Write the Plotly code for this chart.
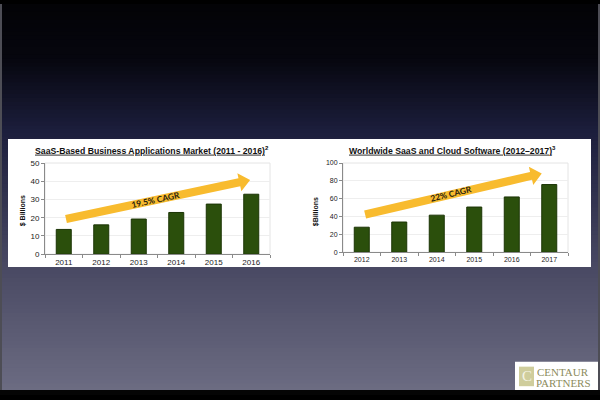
import math
import plotly.graph_objects as go

# ---------------- data ----------------
left_years = ["2011", "2012", "2013", "2014", "2015", "2016"]
left_values = [13.6, 16.1, 19.3, 22.9, 27.5, 32.9]
left_title = "SaaS-Based Business Applications Market (2011 - 2016)"
left_note = "2"
left_ylabel = "$ Billions"
left_cagr = "19.5% CAGR"
left_yticks = [0, 10, 20, 30, 40, 50]
left_arrow = [(0.06, 19.3), (4.97, 40.7)]   # (category index, value) tail -> tip

right_years = ["2012", "2013", "2014", "2015", "2016", "2017"]
right_values = [28.1, 33.9, 41.6, 50.7, 62.0, 75.9]
right_title = "Worldwide SaaS and Cloud Software (2012\u20132017)"
right_note = "3"
right_ylabel = "$Billions"
right_cagr = "22% CAGR"
right_yticks = [0, 20, 40, 60, 80, 100]
right_arrow = [(0.09, 42.4), (4.8, 88.4)]

logo_lines = ["CENTAUR", "PARTNERS"]

# ---------------- layout geometry (pixels) ----------------
W, H = 600, 400
L_DOM = dict(x0=45, x1=270, ytop=162.7, ybot=256, ymax=50)
R_DOM = dict(x0=343, x1=568, ytop=162.7, ybot=254, ymax=100)

BAR = "#2b4f0c"
BAR_EDGE = "#1b3405"
ARROW = "#f8bb2e"


def px2paper(px, py):
    return px / W, 1 - py / H


def d2px(dom, x, y):
    px = dom["x0"] + (x + 0.5) / 6 * (dom["x1"] - dom["x0"])
    py = dom["ybot"] - y / dom["ymax"] * (dom["ybot"] - dom["ytop"])
    return px, py


fig = go.Figure()

# background gradient
stops = [(0, (3, 3, 6)), (55, (6, 6, 14)), (130, (28, 30, 60)),
         (280, (76, 76, 102)), (395, (108, 108, 130))]


def grad(py):
    for (a, ca), (b, cb) in zip(stops[:-1], stops[1:]):
        if a <= py <= b:
            t = (py - a) / (b - a)
            return tuple(int(round(ca[i] + (cb[i] - ca[i]) * t)) for i in range(3))
    return stops[-1][1]


shapes = []
step = 4
for py in range(0, 400, step):
    c = grad(py + step / 2)
    shapes.append(dict(type="rect", xref="paper", yref="paper", layer="below",
                       x0=0, x1=1, y0=max(0, 1 - (py + step + 2) / H), y1=1 - py / H,
                       line=dict(width=0), fillcolor="rgb(%d,%d,%d)" % c))
# frame edges
shapes.append(dict(type="rect", xref="paper", yref="paper", layer="below",
                   x0=0, x1=2 / W, y0=0, y1=1, line=dict(width=0), fillcolor="#4d4d55"))
shapes.append(dict(type="rect", xref="paper", yref="paper", layer="below",
                   x0=1 - 2 / W, x1=1, y0=0, y1=1, line=dict(width=0), fillcolor="#4d4d55"))
shapes.append(dict(type="rect", xref="paper", yref="paper", layer="below",
                   x0=0, x1=1, y0=0, y1=5 / H, line=dict(width=0), fillcolor="#050505"))
# white band
shapes.append(dict(type="rect", xref="paper", yref="paper", layer="below",
                   x0=8 / W, x1=591 / W, y0=1 - 269 / H, y1=1 - 138 / H,
                   line=dict(width=0), fillcolor="white"))
# light plot frames
for dom in (L_DOM, R_DOM):
    shapes.append(dict(type="rect", xref="paper", yref="paper", layer="below",
                       x0=dom["x0"] / W, x1=dom["x1"] / W,
                       y0=1 - dom["ybot"] / H, y1=1 - dom["ytop"] / H,
                       line=dict(width=1, color="#e4e4e4"), fillcolor="white"))

annotations = []


def add_arrow(dom, arrow, text):
    (sx, sy), (ex, ey) = [d2px(dom, *p) for p in arrow]
    dx, dy = ex - sx, ey - sy
    ln = math.hypot(dx, dy)
    ux, uy = dx / ln, dy / ln
    nx, ny = -uy, ux
    h, Hh, Lh = 4.2, 9.5, 11
    bx, by = ex - ux * Lh, ey - uy * Lh
    pts = [(sx + nx * h, sy + ny * h), (bx + nx * h, by + ny * h),
           (bx + nx * Hh, by + ny * Hh), (ex, ey),
           (bx - nx * Hh, by - ny * Hh), (bx - nx * h, by - ny * h),
           (sx - nx * h, sy - ny * h)]
    pp = [px2paper(*p) for p in pts]
    path = "M " + " L ".join("%.5f,%.5f" % p for p in pp) + " Z"
    shapes.append(dict(type="path", xref="paper", yref="paper", path=path,
                       fillcolor=ARROW, line=dict(width=0), layer="above"))
    ang = math.degrees(math.atan2(dy, dx))
    mx, my = (sx + ex) / 2 - 0.6, (sy + ey) / 2 + 0.5
    mpx, mpy = px2paper(mx - 2, my)
    annotations.append(dict(x=mpx, y=mpy, xref="paper", yref="paper", text="<b>%s</b>" % text,
                            showarrow=False, textangle=ang, xanchor="center", yanchor="middle",
                            font=dict(family="Lato", size=8.5, color="#2b2410")))


add_arrow(L_DOM, left_arrow, left_cagr)
add_arrow(R_DOM, right_arrow, right_cagr)

# bars
fig.add_trace(go.Bar(x=left_years, y=left_values, marker=dict(color=BAR, line=dict(color=BAR_EDGE, width=1)),
                     width=0.4, xaxis="x", yaxis="y", showlegend=False))
fig.add_trace(go.Bar(x=right_years, y=right_values, marker=dict(color=BAR, line=dict(color=BAR_EDGE, width=1)),
                     width=0.4, xaxis="x2", yaxis="y2", showlegend=False))

# titles
TFONT = dict(family="Liberation Sans, Arial", size=8.7, color="#111111")
for cx, t, n in ((152, left_title, left_note), (452, right_title, right_note)):
    x, y = px2paper(cx, 149)
    annotations.append(dict(x=x, y=y, xref="paper", yref="paper", showarrow=False,
                            text="<b><u>%s</u><sup>%s</sup></b>" % (t, n), font=TFONT,
                            xanchor="center", yanchor="middle"))

# y axis titles
for cx, t in ((23, left_ylabel), (316, right_ylabel)):
    x, y = px2paper(cx, 212)
    annotations.append(dict(x=x, y=y, xref="paper", yref="paper", showarrow=False, textangle=-90,
                            text="<b>%s</b>" % t, xanchor="center", yanchor="middle",
                            font=dict(family="Liberation Sans", size=7, color="#111111")))

# logo
shapes.append(dict(type="rect", xref="paper", yref="paper", x0=515 / W, x1=598 / W,
                   y0=1 - 395 / H, y1=1 - 366 / H, fillcolor="white", line=dict(width=0), layer="above"))
shapes.append(dict(type="rect", xref="paper", yref="paper", x0=519 / W, x1=534 / W,
                   y0=1 - 391 / H, y1=1 - 371 / H, fillcolor="#cfcd9c", line=dict(width=0), layer="above"))
x, y = px2paper(526.5, 381)
annotations.append(dict(x=x, y=y, xref="paper", yref="paper", showarrow=False, text="C",
                        font=dict(family="Liberation Serif", size=15, color="#f4f3e4"),
                        xanchor="center", yanchor="middle"))
for i, t in enumerate(logo_lines):
    x, y = px2paper(563, 376 + i * 11)
    annotations.append(dict(x=x, y=y, xref="paper", yref="paper", showarrow=False, text=t,
                            font=dict(family="Liberation Serif", size=11, color="#8c8b5c"),
                            xanchor="center", yanchor="middle", height=11))

AX = "#8a8a8a"


def xaxis(dom, fs):
    return dict(domain=[dom["x0"] / W, dom["x1"] / W], type="category", showline=True, linecolor=AX,
                ticks="outside", tickson="boundaries", ticklen=3, tickcolor=AX, showgrid=False,
                tickfont=dict(family="Liberation Sans", size=fs, color="#222222"), range=[-0.5, 5.5],
                fixedrange=True)


def yaxis(dom, ticks, fs, anchor):
    return dict(domain=[1 - dom["ybot"] / H, 1 - dom["ytop"] / H], range=[0, dom["ymax"]],
                tickvals=ticks, showline=True, linecolor=AX, ticks="outside", ticklen=3, tickcolor=AX,
                showgrid=True, gridcolor="#eeeeee", zeroline=False, anchor=anchor,
                tickfont=dict(family="Liberation Sans", size=fs, color="#222222"))


fig.update_layout(
    width=W, height=H, margin=dict(l=0, r=0, t=0, b=0),
    paper_bgcolor="black", plot_bgcolor="rgba(0,0,0,0)",
    xaxis=dict(xaxis(L_DOM, 8), anchor="y"),
    yaxis=yaxis(L_DOM, left_yticks, 8, "x"),
    xaxis2=dict(xaxis(R_DOM, 7), anchor="y2"),
    yaxis2=yaxis(R_DOM, right_yticks, 7, "x2"),
    shapes=shapes, annotations=annotations, bargap=0.6, showlegend=False,
)

fig.write_html("out.html")
